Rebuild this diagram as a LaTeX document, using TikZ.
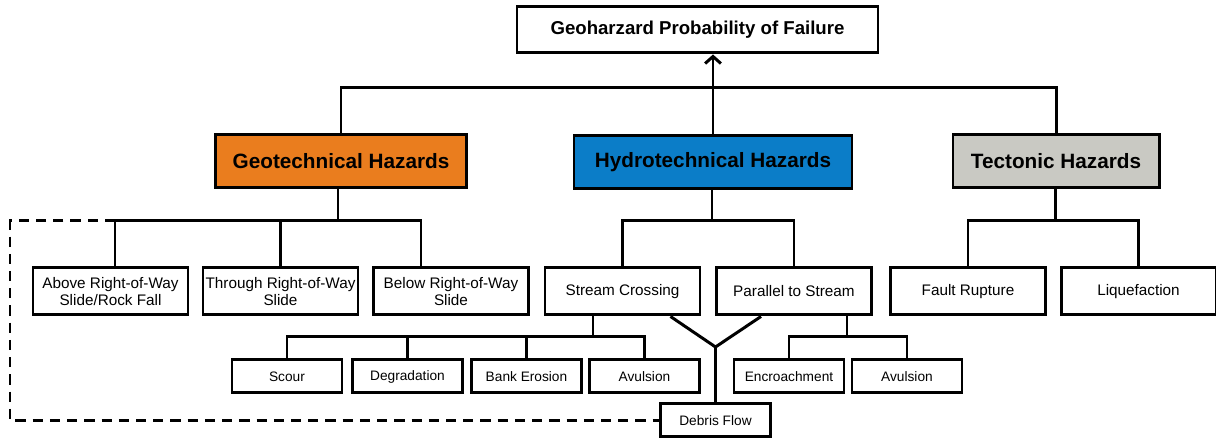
\documentclass[tikz,border=0pt]{standalone}
\usepackage{fontspec}
\setmainfont{Liberation Sans}
\usetikzlibrary{positioning,arrows.meta}
\definecolor{geoorange}{RGB}{234,125,30}
\definecolor{hydroblue}{RGB}{11,125,200}
\definecolor{tectgray}{RGB}{201,201,195}

\begin{document}
\begin{tikzpicture}[line width=1.7pt, >={Straight Barb[length=4pt,width=9pt]},
    topbox/.style={draw, fill=white, minimum width=7.22cm, minimum height=0.92cm, font=\fontsize{10.6}{12}\selectfont\bfseries},
    hazard/.style={draw, minimum height=1.06cm, font=\fontsize{11.8}{14}\selectfont\bfseries},
    sub/.style={draw, minimum width=3.1cm, minimum height=0.94cm, align=center, inner sep=1pt, font=\fontsize{8.7}{10}\selectfont},
    leaf/.style={draw, minimum width=2.2cm, minimum height=0.66cm, inner sep=1pt, font=\fontsize{7.8}{9}\selectfont},
    dashline/.style={dashed, dash pattern=on 5.8pt off 4pt}]
            \useasboundingbox (0,0) rectangle (24.32,8.76);
            % top and hazard groups
            \node[topbox](top) at (13.95,8.16){Geoharzard Probability of Failure};
            \node[hazard, fill=geoorange, minimum width=5.02cm](geo) at (6.82,5.53){Geotechnical Hazards};
            \node[hazard, fill=hydroblue, minimum width=5.56cm](hydro) at (14.26,5.52){Hydrotechnical Hazards};
            \node[hazard, fill=tectgray, minimum width=4.12cm](tect) at (21.12,5.53){Tectonic Hazards};
            % second level
            \node[sub](above) at (2.21,2.93){Above Right-of-Way\\Slide/Rock Fall};
            \node[sub](through) at (5.61,2.93){Through Right-of-Way\\Slide};
            \node[sub](below) at (9.02,2.93){Below Right-of-Way\\Slide};
            \node[sub](stream) at (12.45,2.93){Stream Crossing};
            \node[sub](parallel) at (15.88,2.93){Parallel to Stream};
            \node[sub](fault) at (19.36,2.93){Fault Rupture};
            \node[sub](liq) at (22.77,2.93){Liquefaction};
            % third level
            \node[leaf](scour) at (5.74,1.23){Scour};
            \node[leaf](degr) at (8.15,1.23){Degradation};
            \node[leaf](bank) at (10.53,1.23){Bank Erosion};
            \node[leaf](avul1) at (12.89,1.23){Avulsion};
            \node[leaf](encr) at (15.78,1.23){Encroachment};
            \node[leaf](avul2) at (18.14,1.23){Avulsion};
            \node[leaf](debris) at (14.31,0.35){Debris Flow};
            % junctions
            \coordinate (j0) at (14.24,7.0);
            \coordinate (j1) at (6.76,4.34);
            \coordinate (j2) at (14.24,4.34);
            \coordinate (j5) at (21.1,4.34);
            \coordinate (j3) at (11.86,2.02);
            \coordinate (j4) at (16.94,2.02);
            \coordinate (yj) at (14.31,1.82);
            \coordinate (dl) at (0.2,2.0);
            % connectors
            \draw (geo.north) |- (j0) -| (tect.north);
            \draw[->] (hydro.north) -- (top.south -| hydro.north);
            \draw (geo.south -| j1) -- (j1);
            \draw ([xshift=0.09cm]above.north) |- (j1) -| ([xshift=-0.6cm]below.north);
            \draw (through.north) -- (through.north |- j1);
            \draw (hydro.south -| j2) -- (j2);
            \draw (stream.north) |- (j2) -| (parallel.north);
            \draw (tect.south -| j5) -- (j5);
            \draw (fault.north) |- (j5) -| (liq.north);
            \draw (stream.south -| j3) -- (j3);
            \draw (scour.north) |- (j3) -| (avul1.north);
            \draw (degr.north) -- (degr.north |- j3);
            \draw (bank.north) -- (bank.north |- j3);
            \draw (parallel.south -| j4) -- (j4);
            \draw (encr.north) |- (j4) -| (avul2.north);
            \draw ([xshift=-0.62cm]stream.south east) -- (yj) -- ([xshift=0.92cm]parallel.south west);
            \draw (yj) -- (debris.north);
            \draw[dashline] ([xshift=0.09cm]above.north |- j1) -| (dl) |- (debris.west);
\end{tikzpicture}
\end{document}
